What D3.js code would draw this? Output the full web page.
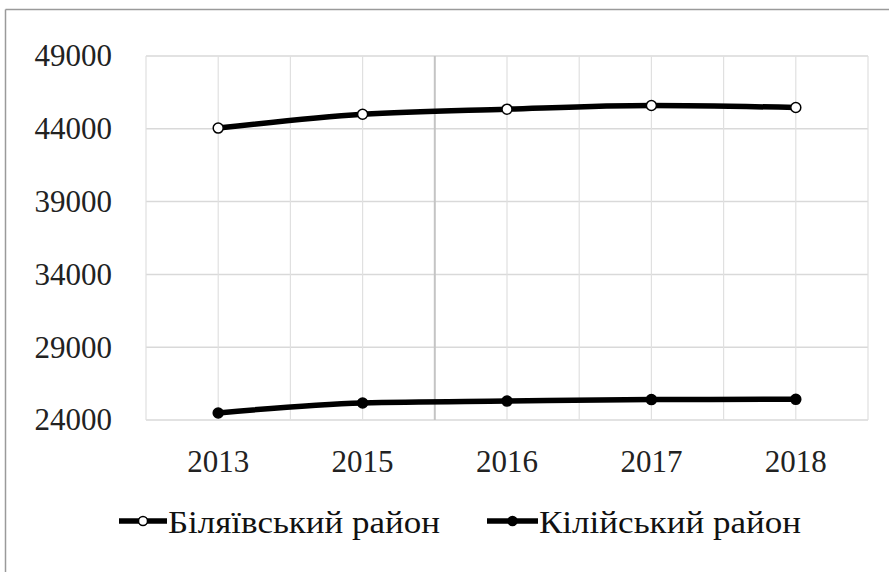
<!DOCTYPE html>
<html><head><meta charset="utf-8">
<script src="https://cdn.jsdelivr.net/npm/d3@7"></script>
<style>body{margin:0;background:#fff}svg{display:block}
svg text{font-family:"Liberation Serif","Times New Roman",Times,"DejaVu Serif","Noto Serif",serif !important;}</style>
</head><body>
<script>
const years = ["2013","2015","2016","2017","2018"];
const biliaivskyi = [44050, 45000, 45350, 45600, 45460];
const kiliiskyi = [24480, 25170, 25300, 25400, 25420];
const yTicks = [24000, 29000, 34000, 39000, 44000, 49000];
const seriesNames = ["Біляївський район", "Кілійський район"];

(function(){
const W = 889, H = 572;
const svg = d3.select("body").append("svg").attr("width", W).attr("height", H);

svg.append("line").attr("x1",5.5).attr("x2",W).attr("y1",9.5).attr("y2",9.5).attr("stroke","#9a9a9a").attr("stroke-width",1.5);
svg.append("line").attr("x1",5.5).attr("x2",5.5).attr("y1",9.5).attr("y2",H).attr("stroke","#9a9a9a").attr("stroke-width",1.5);

const pl = 146, pr = 868, pt = 56, pb = 420;
const x = d3.scaleBand().domain(years).range([pl, pr]);
const y = d3.scaleLinear().domain([24000, 49000]).range([pb, pt]);

const g = svg.append("g");
g.selectAll("line.h").data(yTicks).join("line")
  .attr("x1", pl).attr("x2", pr)
  .attr("y1", d => y(d)).attr("y2", d => y(d))
  .attr("stroke", "#d9d9d9").attr("stroke-width", 1.5);
const vx = [];
years.forEach((yr, i) => { vx.push({x: x(yr), dark: i === 2}); vx.push({x: x(yr) + x.bandwidth()/2, dark:false}); });
vx.push({x: pr, dark:false});
g.selectAll("line.v").data(vx).join("line")
  .attr("x1", d => d.x).attr("x2", d => d.x)
  .attr("y1", pt).attr("y2", pb)
  .attr("stroke", d => d.dark ? "#c4c4c4" : "#e0e0e0").attr("stroke-width", d => d.dark ? 2 : 1.2);

const yAxis = d3.axisLeft(y).tickValues(yTicks).tickSize(0).tickPadding(0).tickFormat(d3.format("d"));
const ya = svg.append("g").attr("transform", `translate(${pl-34},0)`).call(yAxis);
ya.select(".domain").remove();
ya.selectAll("text").attr("font-size", 31).attr("fill", "#222");

const xAxis = d3.axisBottom(x).tickSize(0).tickPadding(0);
const xa = svg.append("g").attr("transform", `translate(0,${pb+30})`).call(xAxis);
xa.select(".domain").remove();
xa.selectAll("text").attr("font-size", 31).attr("fill", "#222");

const cx = d => x(d) + x.bandwidth()/2;
const line = d3.line().x((d,i) => cx(years[i])).y(d => y(d)).curve(d3.curveMonotoneX);

[[biliaivskyi, "#fff"], [kiliiskyi, "#000"]].forEach(([vals, fill]) => {
  svg.append("path").attr("d", line(vals)).attr("fill","none").attr("stroke","#000").attr("stroke-width",5.5).attr("stroke-linejoin","round");
  svg.selectAll(null).data(vals).join("circle")
    .attr("cx", (d,i) => cx(years[i])).attr("cy", d => y(d)).attr("r", 5)
    .attr("fill", fill).attr("stroke", "#000").attr("stroke-width", 1.5);
});

const legY = 521;
const legends = [{x0:119, x1:167, tx:168, tl:272, fill:"#fff"}, {x0:487, x1:538, tx:539, tl:262, fill:"#000"}];
legends.forEach((l, i) => {
  svg.append("line").attr("x1", l.x0).attr("x2", l.x1).attr("y1", legY).attr("y2", legY).attr("stroke","#000").attr("stroke-width",5.5);
  svg.append("circle").attr("cx", (l.x0+l.x1)/2).attr("cy", legY).attr("r", 4.5).attr("fill", l.fill).attr("stroke","#000").attr("stroke-width",1.5);
  svg.append("text").attr("x", l.tx).attr("y", legY + 12).attr("font-size", 32).attr("fill","#111")
    .attr("textLength", l.tl).attr("lengthAdjust", "spacingAndGlyphs")
    .text(seriesNames[i]);
});
})();
</script>
</body></html>
